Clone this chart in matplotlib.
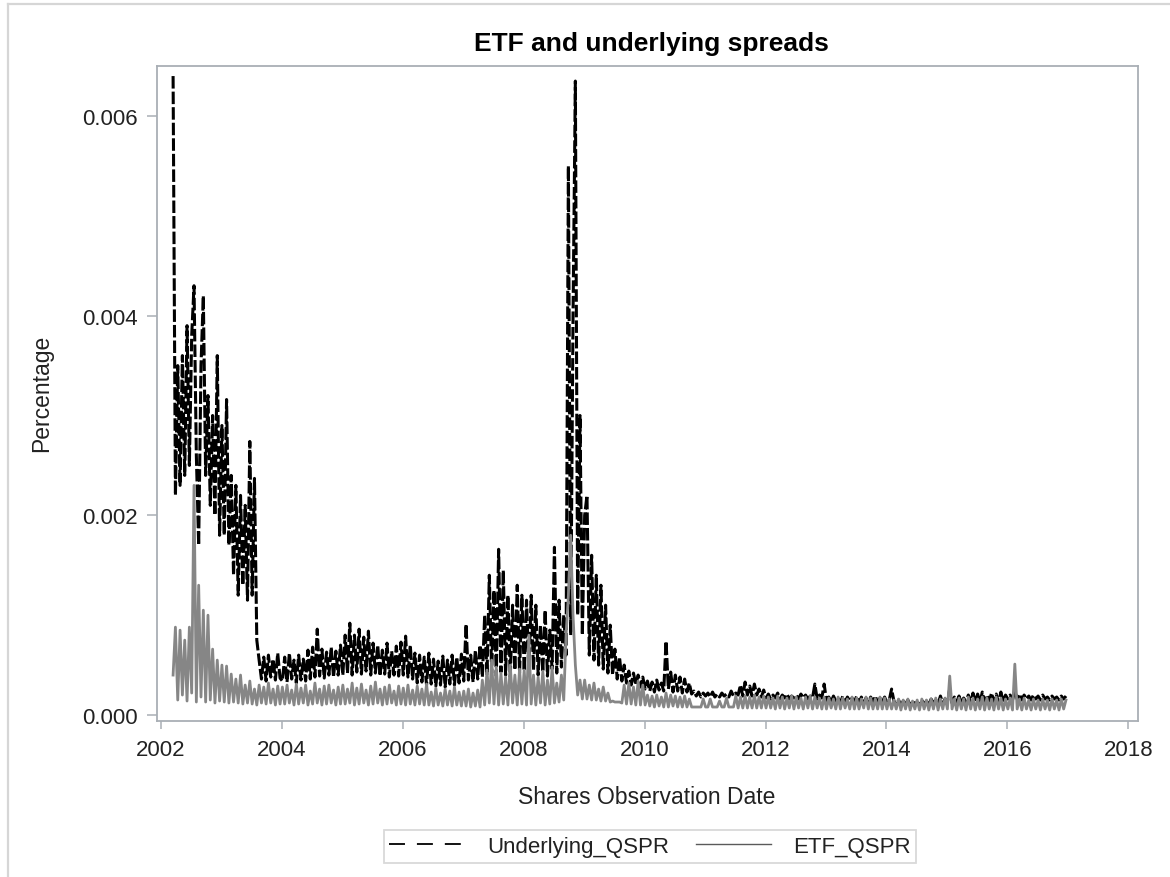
import numpy as np
import matplotlib
matplotlib.use("Agg")
import matplotlib.pyplot as plt
from matplotlib.lines import Line2D

plt.rcParams['font.family'] = ['Liberation Sans', 'DejaVu Sans']
plt.rcParams['lines.scale_dashes'] = False

# ---------------- data (spreads in units of 1e-4, bi-weekly samples) ----------------
start_year = 2002.2
samples_per_year = 26

underlying_2002 = [64, 22, 35, 23, 36, 24, 39, 25, 38, 43, 26, 17, 35, 42, 24, 32, 21, 30, 20, 36, 18]
underlying_2003 = [29, 18, 31.6, 17, 24, 14, 23, 12, 22, 13, 21, 11.5, 27.4, 12, 23.7, 7.5, 5.5, 3.6, 5.8, 3.4, 6.0, 3.8, 5.6, 3.5, 6.2, 3.7]
underlying_2004 = [3.4, 5.8, 3.3, 6.2, 3.6, 5.5, 3.2, 6.0, 3.5, 5.6, 3.4, 6.5, 3.6, 6.8, 3.8, 8.6, 3.9, 6.6, 3.7, 6.3, 4.0, 6.8, 3.8, 6.4, 4.0, 7.0]
underlying_2005 = [4.0, 8.0, 4.2, 9.2, 4.0, 8.0, 4.3, 8.6, 4.1, 7.8, 4.4, 8.4, 4.0, 7.2, 4.2, 7.0, 3.9, 6.5, 4.1, 7.2, 3.8, 6.4, 4.0, 6.9, 3.9, 7.3]
underlying_2006 = [4.0, 7.9, 3.8, 7.0, 3.6, 6.2, 3.2, 6.0, 3.3, 5.8, 3.0, 6.2, 3.1, 5.6, 2.9, 5.4, 3.0, 5.9, 2.8, 5.5, 3.1, 6.0, 3.0, 5.8, 3.2, 6.1]
underlying_2007 = [3.4, 9.1, 3.5, 6.0, 3.3, 6.5, 3.6, 7.0, 3.8, 10.0, 4.0, 14.0, 4.2, 12.5, 3.9, 16.6, 4.3, 14.5, 4.0, 12.0, 3.8, 11.0, 4.5, 13.0, 4.2, 12.0]
underlying_2008 = [4.4, 11.5, 4.2, 12.0, 4.5, 11.0, 4.0, 9.0, 4.3, 10.5, 3.9, 8.5, 4.6, 16.8, 4.2, 11.5, 4.8, 10.0, 6.0, 55.0, 8.0, 40.0, 63.5, 10.0, 30.0, 8.0]
underlying_2009 = [20.0, 22.0, 6.0, 16.0, 5.5, 14.0, 5.0, 13.0, 4.6, 11.0, 4.2, 9.0, 4.0, 6.6, 3.6, 5.8, 3.4, 5.0, 3.2, 4.4, 3.0, 4.2, 3.0, 4.0, 2.8, 3.8]
underlying_2010 = [2.6, 3.4, 2.4, 3.3, 2.3, 3.5, 2.5, 3.2, 2.4, 7.4, 2.6, 4.3, 2.3, 4.0, 2.4, 3.8, 2.2, 3.6, 2.3, 3.2, 2.1, 2.4, 1.9, 2.3, 1.8, 2.2]
underlying_2011 = [1.9, 2.2, 1.8, 2.3, 1.8, 2.1, 1.8, 2.2, 1.9, 2.1, 1.8, 2.4, 1.9, 2.2, 2.0, 3.0, 1.9, 3.3, 2.0, 2.9, 1.9, 3.1, 2.0, 2.6, 1.8, 2.5]
underlying_2012 = [1.7, 2.1, 1.6, 2.0, 1.7, 2.2, 1.6, 2.0, 1.7, 2.1, 1.6, 1.9, 1.7, 2.0, 1.6, 2.1, 1.7, 2.0, 1.6, 1.9, 1.7, 3.1, 1.6, 2.0, 1.7, 3.1]
underlying_2013 = [1.4, 1.8, 1.3, 1.9, 1.4, 1.7, 1.2, 1.9, 1.3, 1.8, 1.4, 1.7, 1.3, 1.9, 1.2, 1.8, 1.3, 1.7, 1.2, 1.8, 1.3, 1.9, 1.2, 1.7, 1.3, 1.8]
underlying_2014 = [1.2, 1.5, 2.6, 1.4, 1.1, 1.5, 1.0, 1.4, 1.1, 1.5, 1.0, 1.4, 1.1, 1.3, 1.0, 1.5, 1.1, 1.4, 1.0, 1.6, 1.2, 1.5, 1.1, 1.9, 1.2, 1.6]
underlying_2015 = [1.3, 2.6, 1.2, 1.8, 1.3, 1.9, 1.2, 1.7, 1.3, 2.0, 1.2, 2.2, 1.3, 2.1, 1.2, 2.3, 1.3, 2.0, 1.4, 2.2, 1.3, 2.1, 1.2, 2.3, 1.3, 2.0]
underlying_2016 = [1.6, 2.0, 1.5, 2.4, 1.6, 2.1, 1.5, 2.0, 1.6, 1.9, 1.5, 2.0, 1.6, 1.9, 1.5, 2.0, 1.6, 1.8, 1.5, 1.9, 1.6, 1.8, 1.5, 1.9, 1.6, 1.9]

etf_2002 = [4.0, 8.8, 1.5, 8.5, 2.0, 7.5, 1.4, 8.8, 2.2, 23.0, 1.3, 13.0, 1.8, 10.5, 1.3, 10.0, 1.5, 6.6, 1.2, 5.5, 1.4]
etf_2003 = [5.0, 1.3, 4.9, 1.2, 4.1, 1.3, 3.6, 1.2, 4.0, 1.1, 3.0, 1.2, 3.4, 1.1, 2.6, 1.0, 3.0, 1.2, 2.8, 1.1, 3.2, 1.2, 2.6, 1.0, 2.9, 1.1]
etf_2004 = [2.8, 1.1, 3.0, 1.2, 2.5, 1.0, 3.1, 1.1, 2.7, 1.2, 3.0, 1.0, 2.4, 1.1, 3.2, 1.2, 2.6, 1.0, 2.9, 1.1, 3.0, 1.2, 2.5, 1.0, 2.8, 1.1]
etf_2005 = [3.0, 1.1, 2.6, 1.2, 3.2, 1.0, 2.7, 1.1, 3.1, 1.2, 2.5, 1.0, 2.9, 1.1, 3.3, 1.2, 2.6, 1.0, 2.8, 1.1, 3.0, 1.2, 2.4, 1.0, 2.9, 1.1]
etf_2006 = [2.7, 1.0, 3.0, 1.1, 2.5, 1.0, 2.9, 1.1, 2.6, 1.0, 3.1, 1.0, 2.3, 0.9, 2.7, 1.0, 2.2, 0.9, 2.6, 1.0, 2.4, 0.9, 2.8, 1.0, 2.3, 0.9]
etf_2007 = [2.4, 0.9, 2.6, 0.8, 2.2, 0.9, 2.5, 0.8, 3.5, 1.0, 4.5, 1.2, 5.5, 1.1, 4.8, 1.0, 4.2, 1.1, 3.8, 1.0, 5.0, 1.2, 4.0, 1.0, 4.6, 1.1]
etf_2008 = [4.5, 1.0, 8.0, 1.1, 4.0, 1.0, 3.8, 1.2, 4.4, 1.0, 3.5, 1.1, 4.8, 1.2, 3.2, 1.3, 4.0, 1.5, 8.0, 12.0, 18.0, 10.0, 5.0, 2.0, 3.5, 1.6]
etf_2009 = [3.5, 1.6, 3.0, 1.5, 3.2, 1.5, 2.6, 1.4, 2.8, 1.4, 2.2, 1.3, 1.4, 1.3, 1.3, 1.3, 1.2, 3.0, 1.1, 3.2, 1.1, 2.8, 1.0, 3.4, 1.0, 3.0]
etf_2010 = [1.0, 2.0, 0.9, 1.9, 0.8, 2.0, 0.9, 1.8, 0.8, 2.2, 0.8, 2.0, 0.9, 1.9, 0.8, 1.8, 0.8, 1.9, 0.8, 1.6, 0.8, 0.8, 0.8, 0.8, 0.8, 1.6]
etf_2011 = [0.8, 0.8, 1.6, 0.8, 0.8, 0.8, 1.4, 0.8, 0.8, 1.7, 0.8, 0.8, 0.8, 1.9, 0.7, 1.8, 0.7, 1.9, 0.7, 1.8, 0.7, 2.0, 0.7, 1.8, 0.7, 1.9]
etf_2012 = [0.7, 1.8, 0.7, 1.7, 0.6, 1.9, 0.7, 1.8, 0.6, 1.7, 0.7, 1.9, 0.6, 1.8, 0.7, 1.7, 0.6, 1.8, 0.7, 1.9, 0.6, 1.8, 0.7, 1.7, 0.6, 1.8]
etf_2013 = [0.6, 1.7, 0.7, 1.6, 0.6, 1.8, 0.6, 1.7, 0.7, 1.6, 0.6, 1.8, 0.6, 1.7, 0.6, 1.6, 0.7, 1.8, 0.6, 1.7, 0.6, 1.6, 0.6, 1.8, 0.6, 1.7]
etf_2014 = [0.6, 1.6, 0.6, 1.5, 0.6, 1.6, 0.5, 1.5, 0.6, 1.6, 0.5, 1.4, 0.6, 1.5, 0.5, 1.6, 0.6, 1.5, 0.5, 1.6, 0.6, 1.7, 0.5, 1.6, 0.6, 1.7]
etf_2015 = [0.6, 3.9, 0.6, 1.6, 0.5, 1.7, 0.6, 1.6, 0.5, 1.8, 0.6, 1.7, 0.5, 1.6, 0.6, 1.8, 0.5, 1.7, 0.6, 1.6, 0.5, 1.8, 0.6, 1.7, 0.5, 1.6]
etf_2016 = [0.6, 1.7, 0.5, 5.1, 0.6, 1.6, 0.5, 1.7, 0.6, 1.5, 0.5, 1.6, 0.6, 1.5, 0.5, 1.6, 0.6, 1.5, 0.5, 1.6, 0.6, 1.5, 0.5, 1.6, 0.6, 1.5]

x_ticks = [2002, 2004, 2006, 2008, 2010, 2012, 2014, 2016, 2018]
y_ticks = [0.000, 0.002, 0.004, 0.006]
series_labels = ["Underlying_QSPR", "ETF_QSPR"]

underlying = np.concatenate([underlying_2002, underlying_2003, underlying_2004, underlying_2005,
                             underlying_2006, underlying_2007, underlying_2008, underlying_2009,
                             underlying_2010, underlying_2011, underlying_2012, underlying_2013,
                             underlying_2014, underlying_2015, underlying_2016]) * 1e-4
etf = np.concatenate([etf_2002, etf_2003, etf_2004, etf_2005, etf_2006, etf_2007, etf_2008,
                      etf_2009, etf_2010, etf_2011, etf_2012, etf_2013, etf_2014, etf_2015,
                      etf_2016]) * 1e-4
dates = start_year + np.arange(len(underlying)) / samples_per_year

# ---------------- figure ----------------
W, H = 1170, 878
fig = plt.figure(figsize=(W / 100, H / 100), dpi=100)
fig.patch.set_facecolor('white')

# outer light border (left and top)
fig.add_artist(Line2D([8 / W, 8 / W], [0, 1 - 5 / H], transform=fig.transFigure, color='#d6d6d6', lw=1.6))
fig.add_artist(Line2D([8 / W, 1], [1 - 5 / H, 1 - 5 / H], transform=fig.transFigure, color='#d6d6d6', lw=1.6))

ax_l, ax_r, ax_t, ax_b = 157, 1138, 67, 722
ax = fig.add_axes([ax_l / W, 1 - ax_b / H, (ax_r - ax_l) / W, (ax_b - ax_t) / H])

frame_c = '#a9afb5'
gray_c = '#868686'
ax.plot(dates, underlying, color='black', lw=2.2, dashes=(9, 2.2))
ax.plot(dates, etf, color=gray_c, lw=2.0)

px_per_year = (1128.3 - 161) / 16
ax.set_xlim(2002 - (161 - ax_l) / px_per_year, 2002 + (ax_r - 161) / px_per_year)
px_per_unit = (716 - 117) / 0.006
ax.set_ylim(-(ax_b - 716) / px_per_unit, 0.006 + (117 - ax_t) / px_per_unit)

ax.set_xticks(x_ticks)
ax.set_xticklabels([str(t) for t in x_ticks])
ax.set_yticks(y_ticks)
ax.set_yticklabels([f"{t:.3f}" for t in y_ticks])

for s in ax.spines.values():
    s.set_color(frame_c)
    s.set_linewidth(1.3)
ax.tick_params(axis='both', direction='out', color=frame_c, width=1.1, labelsize=16, labelcolor='#222222')
ax.tick_params(axis='x', length=6, pad=7)
ax.tick_params(axis='y', length=7, pad=7)

fig.text(651 / W, 1 - 51 / H, "ETF and underlying spreads", ha='center', va='baseline',
         fontsize=19, fontweight='bold', color='black')
fig.text(647 / W, 1 - 804 / H, "Shares Observation Date", ha='center', va='baseline',
         fontsize=16.5, color='#222222')
fig.text(42 / W, 1 - 393 / H, "Percentage", ha='center', va='center', rotation=90,
         fontsize=16.5, color='#222222', rotation_mode='anchor')

# legend handles styled like the reference key
h1 = Line2D([], [], color='black', lw=1.3, dashes=(11.5, 8.6))
h2 = Line2D([], [], color='#5a5a5a', lw=1.0)
leg = fig.legend([h1, h2], series_labels, loc='center', bbox_to_anchor=(650 / W, 1 - 847.5 / H),
                 ncol=2, frameon=True, fancybox=False, fontsize=16, handlelength=3.4,
                 handletextpad=1.0, columnspacing=1.2, borderpad=0.25, borderaxespad=0)
leg.get_frame().set_edgecolor('#d0d0d0')
leg.get_frame().set_linewidth(1.3)
for t in leg.get_texts():
    t.set_color('#222222')

fig.savefig("out.png", dpi=100, facecolor='white')
